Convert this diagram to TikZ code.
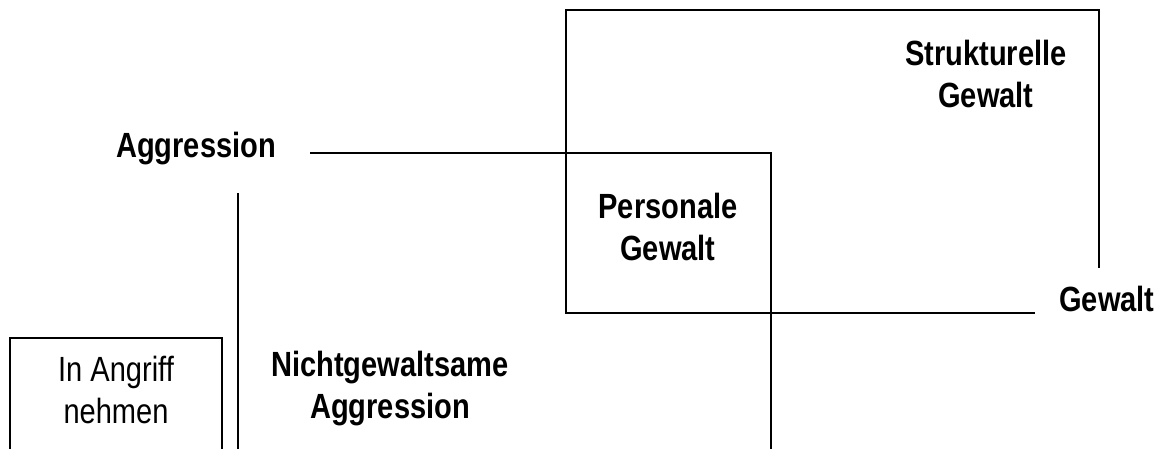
\documentclass[tikz,border=0pt]{standalone}
\usepackage{fontspec}
\newfontfamily\narrowsans{Liberation Sans}[FakeStretch=0.83]
\usetikzlibrary{positioning}

\begin{document}
\begin{tikzpicture}[%
x=1pt,y=-1pt,
line width=1.6pt,
lbl/.style={
font=\narrowsans\bfseries\fontsize{35}{42}\selectfont,
align=center,
inner sep=0pt},
plain/.style={
lbl,
font=\narrowsans\fontsize{35}{42}\selectfont}
]
\useasboundingbox (0,0) rectangle (1160,449);
% corners of the regions
\coordinate (sTL) at (566,10);
\coordinate (sTR) at (1099,10);
\coordinate (sR) at (1099,268);
\coordinate (sBL) at (566,313);
\coordinate (sB) at (1035,313);
\coordinate (aL) at (310,153);
\coordinate (aR) at (771,153);
\coordinate (aD) at (771,449);
\coordinate (nT) at (238,193);
\coordinate (nD) at (238,449);
\coordinate (iTL) at (10,338);
\coordinate (iTR) at (222,338);
\coordinate (iBL) at (10,449);
\coordinate (iBR) at (222,449);
% labels
\node[lbl] (aggr) at (196,149) {Aggression};
\node[lbl] (struk) at (986,74) {Strukturelle\\Gewalt};
\node[lbl] (pers) at (668,227) {Personale\\Gewalt};
\node[lbl] (gew) at (1107,299) {Gewalt};
\node[lbl] (nicht) at (390,389) {Nichtgewaltsame\\Aggression};
\node[plain] (angr) at (116,390) {In Angriff\\nehmen};
% lines
\draw (sR) -- (sTR) -- (sTL) -- (sBL) -- (sB);
\draw (aL) -- (aR) -- (aD);
\draw (nT) -- (nD);
\draw (iBL) -- (iTL) -- (iTR) -- (iBR);
\end{tikzpicture}
\end{document}
